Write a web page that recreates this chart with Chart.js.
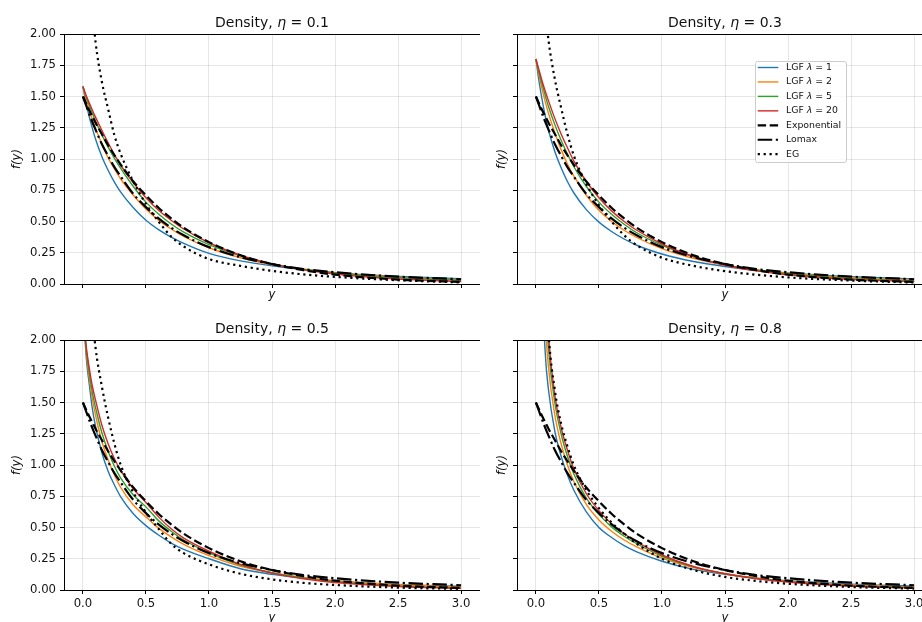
<!DOCTYPE html>
<html>
<head>
<meta charset="utf-8">
<title>Density comparison</title>
<script src="https://cdn.jsdelivr.net/npm/chart.js@4.4.0/dist/chart.umd.min.js"></script>
<style>
  html, body { margin: 0; padding: 0; background: #fff; width: 922px; height: 622px; overflow: hidden; }
  canvas { position: absolute; }
</style>
</head>
<body>
<canvas id="panel-0" width="480" height="310" style="left:0;top:0"></canvas>
<canvas id="panel-1" width="480" height="310" style="left:453px;top:0"></canvas>
<canvas id="panel-2" width="480" height="330" style="left:0;top:310px"></canvas>
<canvas id="panel-3" width="480" height="330" style="left:453px;top:310px"></canvas>
<script>
// support points (y) where each density is sampled
const ySupport = [0, 0.025, 0.05, 0.075, 0.1, 0.15, 0.2, 0.25, 0.3, 0.4, 0.5, 0.6, 0.7, 0.8, 1.0, 1.25, 1.5, 1.75, 2.0, 2.5, 3.0];
const xTickValues = [0, 0.5, 1, 1.5, 2, 2.5, 3];
const yTickValues = [0, 0.25, 0.5, 0.75, 1, 1.25, 1.5, 1.75, 2];
const etaValues = [0.1, 0.3, 0.5, 0.8];
const lambdaValues = [1, 2, 5, 20];

// reference fits, identical in every panel
const exponentialDensity = [1.50, 1.445, 1.39, 1.34, 1.29, 1.20, 1.11, 1.03, 0.955, 0.82, 0.71, 0.61, 0.525, 0.45, 0.335, 0.23, 0.16, 0.11, 0.075, 0.035, 0.017];
const lomaxDensity = [1.50, 1.43, 1.36, 1.295, 1.235, 1.12, 1.025, 0.935, 0.86, 0.72, 0.615, 0.525, 0.45, 0.39, 0.295, 0.215, 0.16, 0.12, 0.094, 0.059, 0.038];

// eta = 0.1
const lgf1Eta01 = [1.58, 1.45, 1.34, 1.245, 1.16, 1.02, 0.91, 0.815, 0.735, 0.61, 0.51, 0.435, 0.375, 0.325, 0.245, 0.185, 0.145, 0.115, 0.09, 0.06, 0.042];
const lgf2Eta01 = [1.58, 1.48, 1.39, 1.315, 1.245, 1.12, 1.01, 0.92, 0.84, 0.71, 0.60, 0.51, 0.44, 0.38, 0.29, 0.21, 0.155, 0.118, 0.09, 0.055, 0.035];
const lgf5Eta01 = [1.58, 1.50, 1.43, 1.365, 1.305, 1.195, 1.095, 1.005, 0.925, 0.78, 0.655, 0.56, 0.48, 0.415, 0.315, 0.225, 0.16, 0.118, 0.088, 0.05, 0.03];
const lgf20Eta01 = [1.58, 1.51, 1.45, 1.39, 1.335, 1.23, 1.13, 1.035, 0.95, 0.81, 0.69, 0.59, 0.51, 0.44, 0.33, 0.23, 0.16, 0.113, 0.08, 0.04, 0.02];
const egEta01 = [null, 3.6, 2.65, 2.22, 1.94, 1.62, 1.40, 1.19, 1.04, 0.82, 0.64, 0.50, 0.38, 0.30, 0.20, 0.145, 0.105, 0.077, 0.057, 0.03, 0.013];

// eta = 0.3
const lgf1Eta03 = [1.80, 1.62, 1.47, 1.34, 1.23, 1.06, 0.93, 0.82, 0.73, 0.595, 0.495, 0.42, 0.36, 0.31, 0.24, 0.18, 0.14, 0.11, 0.088, 0.058, 0.04];
const lgf2Eta03 = [1.80, 1.67, 1.555, 1.455, 1.365, 1.21, 1.075, 0.96, 0.865, 0.71, 0.59, 0.50, 0.43, 0.372, 0.283, 0.205, 0.152, 0.113, 0.086, 0.05, 0.03];
const lgf5Eta03 = [1.80, 1.69, 1.595, 1.505, 1.42, 1.275, 1.15, 1.04, 0.94, 0.78, 0.655, 0.558, 0.478, 0.41, 0.31, 0.218, 0.153, 0.11, 0.08, 0.042, 0.024];
const lgf20Eta03 = [1.80, 1.71, 1.62, 1.54, 1.465, 1.325, 1.20, 1.09, 0.985, 0.82, 0.69, 0.585, 0.50, 0.43, 0.32, 0.22, 0.15, 0.105, 0.074, 0.037, 0.02];
const egEta03 = [null, 3.4, 2.6, 2.2, 1.95, 1.64, 1.41, 1.20, 1.03, 0.80, 0.63, 0.50, 0.39, 0.31, 0.21, 0.145, 0.103, 0.074, 0.053, 0.027, 0.012];

// eta = 0.5
const lgf1Eta05 = [2.35, 1.88, 1.65, 1.45, 1.31, 1.10, 0.95, 0.84, 0.745, 0.61, 0.515, 0.44, 0.375, 0.325, 0.25, 0.17, 0.125, 0.095, 0.073, 0.045, 0.03];
const lgf2Eta05 = [2.30, 1.92, 1.70, 1.53, 1.40, 1.19, 1.04, 0.92, 0.82, 0.68, 0.585, 0.495, 0.425, 0.365, 0.275, 0.19, 0.138, 0.1, 0.075, 0.042, 0.025];
const lgf5Eta05 = [2.25, 1.94, 1.74, 1.58, 1.46, 1.26, 1.11, 0.99, 0.895, 0.76, 0.665, 0.555, 0.47, 0.40, 0.298, 0.2, 0.138, 0.095, 0.066, 0.032, 0.016];
const lgf20Eta05 = [2.25, 1.96, 1.78, 1.63, 1.52, 1.32, 1.17, 1.05, 0.955, 0.81, 0.70, 0.585, 0.49, 0.415, 0.31, 0.205, 0.135, 0.09, 0.06, 0.028, 0.013];
const egEta05 = [null, 3.5, 2.62, 2.2, 1.94, 1.63, 1.38, 1.17, 1.00, 0.78, 0.62, 0.49, 0.37, 0.295, 0.205, 0.13, 0.085, 0.057, 0.04, 0.019, 0.009];

// eta = 0.8
const lgf1Eta08 = [null, 4.2, 2.5, 1.88, 1.60, 1.27, 1.07, 0.92, 0.80, 0.625, 0.50, 0.42, 0.355, 0.305, 0.23, 0.165, 0.125, 0.095, 0.074, 0.047, 0.031];
const lgf2Eta08 = [null, 5.0, 3.0, 2.15, 1.78, 1.40, 1.17, 1.00, 0.87, 0.685, 0.56, 0.47, 0.40, 0.345, 0.255, 0.18, 0.13, 0.095, 0.071, 0.04, 0.024];
const lgf5Eta08 = [null, 5.6, 3.3, 2.38, 1.93, 1.50, 1.25, 1.07, 0.93, 0.735, 0.605, 0.505, 0.43, 0.37, 0.27, 0.185, 0.13, 0.092, 0.067, 0.035, 0.019];
const lgf20Eta08 = [null, 6.0, 3.6, 2.55, 2.04, 1.56, 1.30, 1.12, 0.97, 0.77, 0.635, 0.53, 0.45, 0.385, 0.28, 0.188, 0.13, 0.09, 0.064, 0.032, 0.016];
const egEta08 = [null, 6.2, 3.7, 2.6, 2.06, 1.60, 1.33, 1.15, 1.00, 0.80, 0.655, 0.54, 0.45, 0.37, 0.25, 0.16, 0.105, 0.072, 0.05, 0.024, 0.011];

const panels = [
  { eta: etaValues[0], lgf: [lgf1Eta01, lgf2Eta01, lgf5Eta01, lgf20Eta01], eg: egEta01, row: 0, col: 0, legend: false },
  { eta: etaValues[1], lgf: [lgf1Eta03, lgf2Eta03, lgf5Eta03, lgf20Eta03], eg: egEta03, row: 0, col: 1, legend: true },
  { eta: etaValues[2], lgf: [lgf1Eta05, lgf2Eta05, lgf5Eta05, lgf20Eta05], eg: egEta05, row: 1, col: 0, legend: false },
  { eta: etaValues[3], lgf: [lgf1Eta08, lgf2Eta08, lgf5Eta08, lgf20Eta08], eg: egEta08, row: 1, col: 1, legend: false }
];

const lgfColors = ['#1f77b4', '#ff7f0e', '#2ca02c', '#d62728'];
const blackWidth = 2.2;
const referenceStyles = [
  { label: 'Exponential', dash: [8.4, 3.6] },
  { label: 'Lomax', dash: [14.5, 3.6, 2.2, 3.6] },
  { label: 'EG', dash: [2.2, 3.7] }
];

const FONT = '"DejaVu Sans", sans-serif';
const textColor = '#111';
const gridColor = 'rgba(176, 176, 176, 0.32)';
const tickSize = 11.67;

Chart.defaults.font.family = FONT;
Chart.defaults.color = textColor;

// split a string into plain / greek runs so greek letters come out italic
function textRuns(str) {
  const runs = [];
  for (const ch of str) {
    const italic = /[\u0370-\u03ff]/.test(ch);
    const last = runs[runs.length - 1];
    if (last && last.italic === italic) last.text += ch;
    else runs.push({ text: ch, italic });
  }
  return runs;
}

function drawRuns(ctx, str, x, y, size, align) {
  const runs = textRuns(str);
  const fontOf = r => (r.italic ? 'italic ' : '') + size + 'px ' + FONT;
  let total = 0;
  for (const r of runs) {
    ctx.font = fontOf(r);
    r.w = ctx.measureText(r.text).width;
    total += r.w;
  }
  let cx = align === 'center' ? x - total / 2 : x;
  ctx.textAlign = 'left';
  for (const r of runs) {
    ctx.font = fontOf(r);
    ctx.fillText(r.text, cx, y);
    cx += r.w;
  }
}

// spines, panel title and the optional in-axes legend
const panelFrame = {
  id: 'panelFrame',
  afterDraw(chart, args, opts) {
    const { ctx, chartArea: a } = chart;
    ctx.save();
    ctx.setLineDash([]);
    ctx.strokeStyle = '#000';
    ctx.lineWidth = 1;
    ctx.strokeRect(Math.round(a.left) + 0.5, Math.round(a.top) + 0.5,
      Math.round(a.right - a.left), Math.round(a.bottom - a.top));

    ctx.fillStyle = textColor;
    ctx.textBaseline = 'alphabetic';
    drawRuns(ctx, opts.title, (a.left + a.right) / 2, a.top - 7.5, 14, 'center');

    if (opts.legend) {
      const bx = a.left + 238, by = a.top + 27, bw = 91, bh = 101;
      ctx.beginPath();
      if (ctx.roundRect) ctx.roundRect(bx + 0.5, by + 0.5, bw, bh, 2);
      else ctx.rect(bx + 0.5, by + 0.5, bw, bh);
      ctx.fillStyle = 'rgba(255, 255, 255, 0.8)';
      ctx.fill();
      ctx.strokeStyle = '#cccccc';
      ctx.lineWidth = 1;
      ctx.stroke();

      chart.data.datasets.forEach((ds, i) => {
        const cy = by + 6.5 + i * 14.45;
        ctx.strokeStyle = ds.borderColor;
        ctx.lineWidth = ds.borderWidth;
        ctx.setLineDash(ds.borderDash || []);
        ctx.beginPath();
        ctx.moveTo(bx + 2.7, cy);
        ctx.lineTo(bx + 23.3, cy);
        ctx.stroke();
        ctx.setLineDash([]);
        ctx.fillStyle = textColor;
        ctx.textBaseline = 'middle';
        drawRuns(ctx, ds.label, bx + 31, cy, 9.33, 'left');
      });
    }
    ctx.restore();
  }
};

function toPoints(values) {
  return ySupport.map((y, i) => ({ x: y, y: values[i] }));
}

function buildDatasets(panel) {
  const lines = panel.lgf.map((values, i) => ({
    label: 'LGF λ = ' + lambdaValues[i],
    data: toPoints(values),
    borderColor: lgfColors[i],
    borderWidth: 1.4
  }));
  [exponentialDensity, lomaxDensity, panel.eg].forEach((values, i) => {
    lines.push({
      label: referenceStyles[i].label,
      data: toPoints(values),
      borderColor: '#000',
      borderWidth: blackWidth,
      borderDash: referenceStyles[i].dash
    });
  });
  // later series sit on top, as in the legend order
  return lines.map((ds, i) => ({
    ...ds,
    order: lines.length - i,
    pointRadius: 0,
    fill: false,
    cubicInterpolationMode: 'monotone',
    spanGaps: false,
    clip: 0
  }));
}

panels.forEach((panel, idx) => {
  const bottomRow = panel.row === 1;
  const leftCol = panel.col === 0;

  new Chart(document.getElementById('panel-' + idx), {
    type: 'line',
    data: { datasets: buildDatasets(panel) },
    options: {
      responsive: false,
      animation: false,
      events: [],
      layout: { autoPadding: false, padding: { top: bottomRow ? 30 : 34, left: 0, right: 0, bottom: 0 } },
      plugins: {
        legend: { display: false },
        tooltip: { enabled: false },
        panelFrame: { title: 'Density, η = ' + panel.eta, legend: panel.legend }
      },
      scales: {
        x: {
          type: 'linear',
          min: -0.15,
          max: 3.15,
          afterBuildTicks: s => { s.ticks = xTickValues.map(v => ({ value: v })); },
          afterFit: s => { s.height = bottomRow ? 50 : 26; },
          border: { display: false },
          grid: { color: gridColor, lineWidth: 1, drawTicks: true, tickLength: 4, tickColor: '#000', tickWidth: 1 },
          ticks: {
            display: bottomRow,
            autoSkip: false,
            maxRotation: 0,
            padding: 3,
            color: textColor,
            font: { size: tickSize },
            callback: v => v.toFixed(1)
          },
          title: {
            display: true,
            text: 'y',
            color: textColor,
            font: { size: tickSize, style: 'italic' },
            padding: { top: 0, bottom: bottomRow ? 15 : 7.7 }
          }
        },
        y: {
          type: 'linear',
          min: 0,
          max: 2,
          afterBuildTicks: s => { s.ticks = yTickValues.map(v => ({ value: v })); },
          afterFit: s => { s.width = 64; },
          border: { display: false },
          grid: { color: gridColor, lineWidth: 1, drawTicks: true, tickLength: 4, tickColor: '#000', tickWidth: 1 },
          ticks: {
            display: leftCol,
            autoSkip: false,
            padding: 4,
            color: textColor,
            font: { size: tickSize },
            callback: v => v.toFixed(2)
          },
          title: {
            display: true,
            text: 'f(y)',
            color: textColor,
            font: { size: tickSize, style: 'italic' },
            padding: { top: leftCol ? 9.7 : 41.7, bottom: 0 }
          }
        }
      }
    },
    plugins: [panelFrame]
  });
});
</script>
</body>
</html>
